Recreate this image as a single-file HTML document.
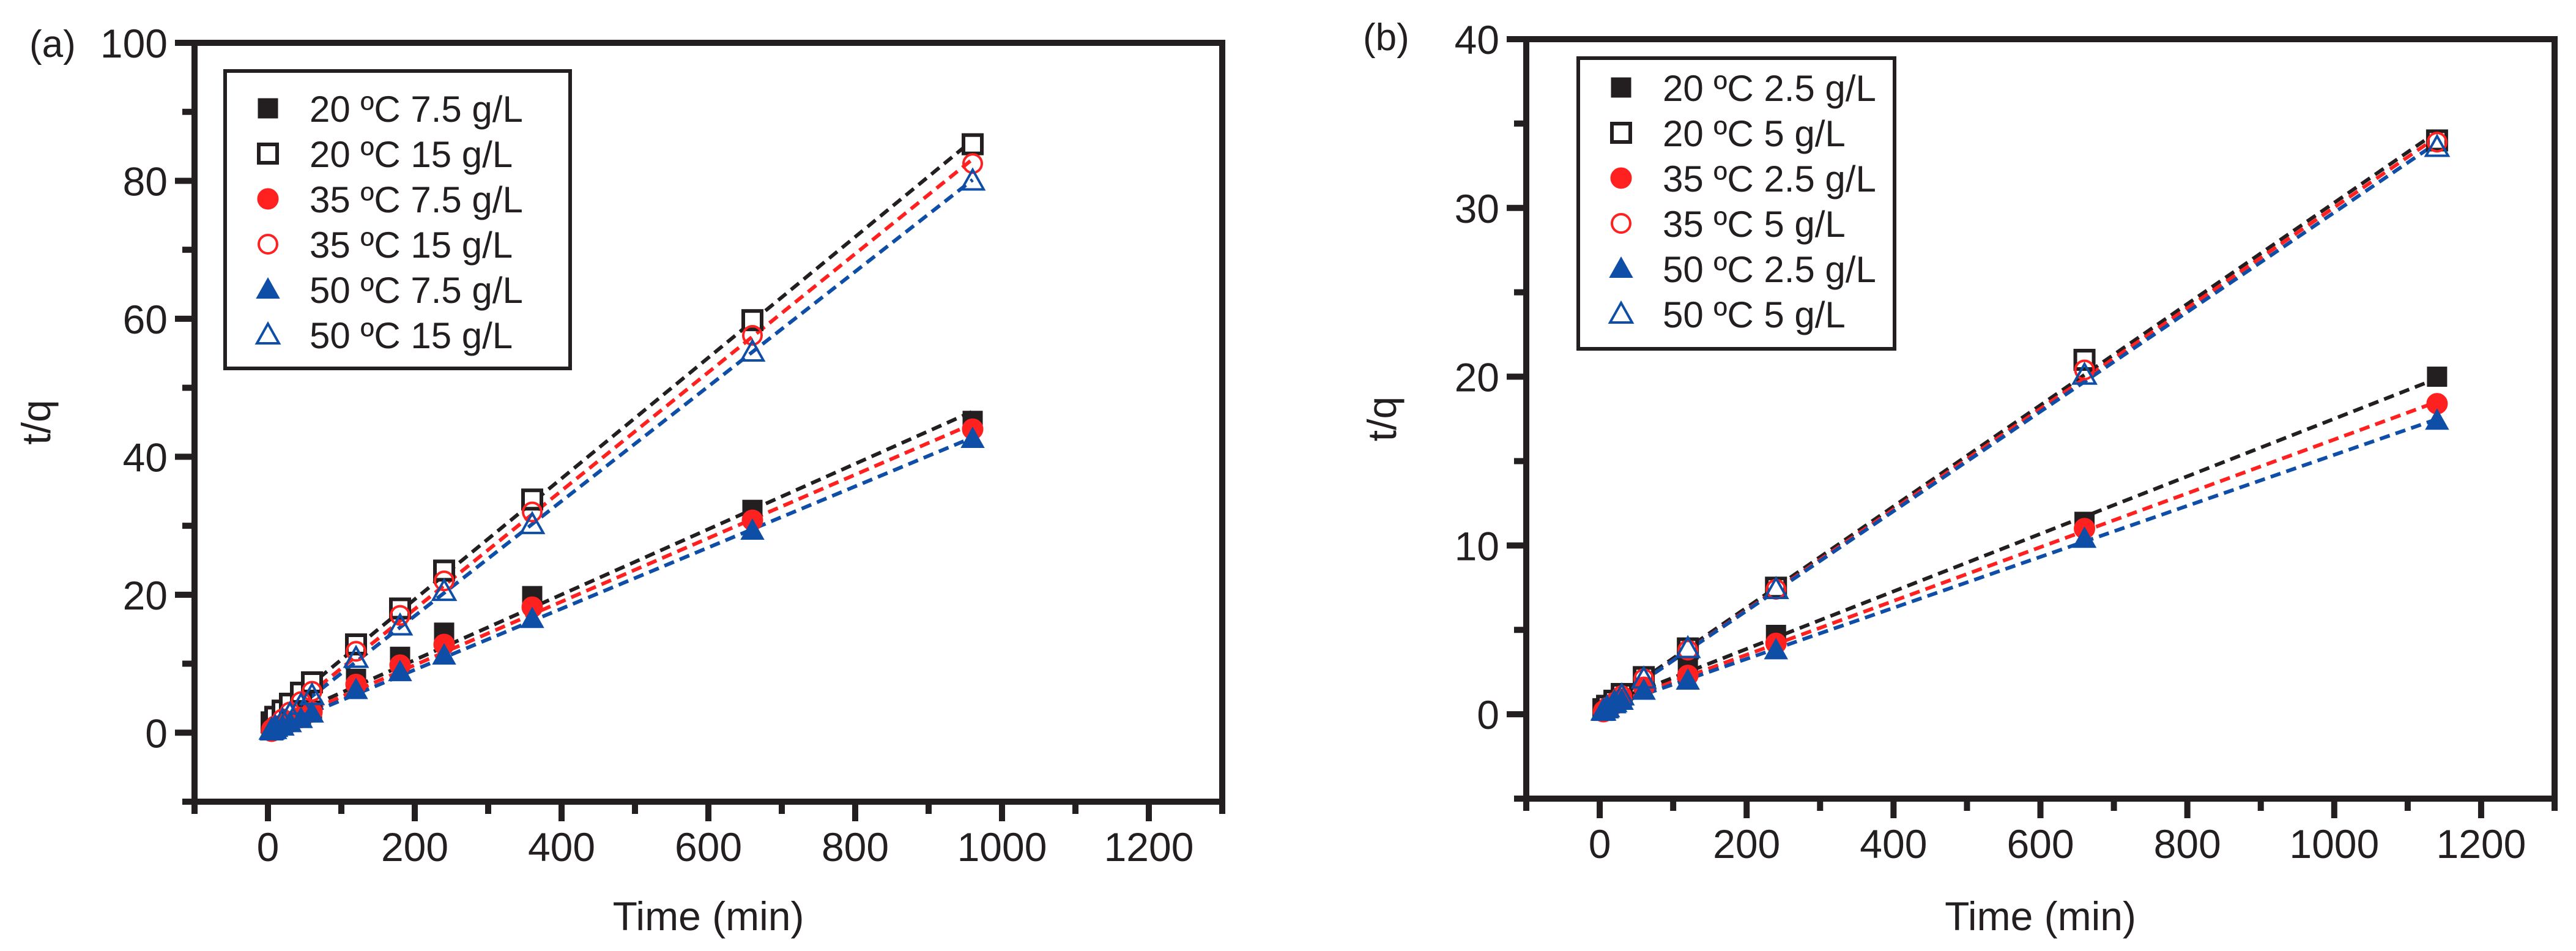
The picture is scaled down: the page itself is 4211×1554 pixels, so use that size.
<!DOCTYPE html>
<html><head><meta charset="utf-8"><style>
html,body{margin:0;padding:0;background:#fff;}
svg{display:block;font-family:"Liberation Sans",Arial,sans-serif;}
</style></head><body>
<svg id="fig" width="4211" height="1554" viewBox="0 0 4211 1554" xmlns="http://www.w3.org/2000/svg"></svg>
<script>
// ---------- Panel (a) data ----------
const timesA = [5,10,20,30,45,60,120,180,240,360,660,960];
const a_20_75 = [0.5,0.8,1.2,1.6,2.4,3.2,7.8,11,14.5,19.8,32.3,45.2];
const a_20_15 = [1.5,2.3,3.2,4.2,5.8,7.3,12.8,18,23.5,33.8,59.8,85.3];
const a_35_75 = [0.2,0.5,1.0,1.5,2.2,3.0,7.0,9.8,12.8,18.2,30.8,44.0];
const a_35_15 = [0.5,1.0,2.0,3.0,4.5,6.0,11.8,17,22,32,57.6,82.5];
const a_50_75 = [0.2,0.4,0.9,1.4,2.0,2.8,6.2,8.8,11.2,16.5,29.3,42.6];
const a_50_15 = [0.4,0.8,1.8,2.7,4.0,5.4,10.8,15.5,20.5,30.2,55.2,80.0];
const labelsA = ["20 \u00BAC 7.5 g/L","20 \u00BAC 15 g/L","35 \u00BAC 7.5 g/L","35 \u00BAC 15 g/L","50 \u00BAC 7.5 g/L","50 \u00BAC 15 g/L"];
const yTicksA = [0,20,40,60,80,100];
// ---------- Panel (b) data ----------
const timesB = [5,10,20,30,60,120,240,660,1140];
const b_20_25 = [0.2,0.4,0.7,1.0,2.0,2.7,4.7,11.4,20.0];
const b_20_5  = [0.3,0.5,0.8,1.2,2.2,3.9,7.5,21.0,34.0];
const b_35_25 = [0.15,0.3,0.6,0.9,1.6,2.3,4.2,11.0,18.4];
const b_35_5  = [0.2,0.4,0.7,1.1,2.1,3.8,7.4,20.4,33.9];
const b_50_25 = [0.15,0.3,0.6,0.8,1.4,2.0,3.8,10.4,17.4];
const b_50_5  = [0.2,0.4,0.7,1.1,2.1,3.9,7.4,20.1,33.6];
const labelsB = ["20 \u00BAC 2.5 g/L","20 \u00BAC 5 g/L","35 \u00BAC 2.5 g/L","35 \u00BAC 5 g/L","50 \u00BAC 2.5 g/L","50 \u00BAC 5 g/L"];
const yTicksB = [0,10,20,30,40];
const xTicks = [0,200,400,600,800,1000,1200];

const NS="http://www.w3.org/2000/svg";
const svg=document.getElementById('fig');
const BLACK="#231f20", RED="#ff2020", BLUE="#0e4ea6";
const styles=[
 {c:BLACK,shape:'sq',fill:true},{c:BLACK,shape:'sq',fill:false},
 {c:RED,shape:'ci',fill:true},{c:RED,shape:'ci',fill:false},
 {c:BLUE,shape:'tr',fill:true},{c:BLUE,shape:'tr',fill:false}];
function el(tag,attrs,parent){const e=document.createElementNS(NS,tag);for(const k in attrs)e.setAttribute(k,attrs[k]);(parent||svg).appendChild(e);return e;}
function marker(g,shape,cx,cy,c,fill){
  let m;
  if(shape==='sq'){m=el('rect',{x:cx-15,y:cy-15,width:30,height:30,fill:fill?c:'#fff',stroke:c,'stroke-width':fill?3:6},g);}
  else if(shape==='ci'){m=el('circle',{cx:cx,cy:cy,r:fill?17:15,fill:fill?c:'none',stroke:c,'stroke-width':fill?1:4},g);}
  else {m=el('polygon',{points:`${cx},${cy-18} ${cx+18},${cy+14} ${cx-18},${cy+14}`,fill:fill?c:'none',stroke:c,'stroke-width':fill?2:4,'stroke-linejoin':'miter'},g);}
  return m;
}
function fit(t,y){const n=t.length;let st=0,sy=0,stt=0,sty=0;for(let i=0;i<n;i++){st+=t[i];sy+=y[i];stt+=t[i]*t[i];sty+=t[i]*y[i];}
 const b=(n*sty-st*sy)/(n*stt-st*st);return {a:(sy-b*st)/n,b:b};}

function panel(P){
  const g=el('g',{});
  
  
  const X=v=>P.x0+(v-P.xmin)*(P.x1-P.x0)/(P.xmax-P.xmin);
  const Y=v=>P.y0-(v-P.ymin)*(P.y0-P.y1)/(P.ymax-P.ymin);
  // fit lines
  P.series.forEach((s,i)=>{
    const f=fit(P.times,s);const tEnd=P.times[P.times.length-1];
    const l=el('line',{x1:X(0),y1:Y(f.a),x2:X(tEnd),y2:Y(f.a+f.b*tEnd),stroke:styles[i].c,'stroke-width':6,'stroke-dasharray':'17 10'},g);
    
    
  });
  // points
  P.series.forEach((s,i)=>{
    const sg=el('g',{},g);
    
    
    s.forEach((v,j)=>{const m=marker(sg,styles[i].shape,X(P.times[j]),Y(v),styles[i].c,styles[i].fill);
      
      });
  });
  // frame
  const fr=el('rect',{x:P.x0,y:P.y1,width:P.x1-P.x0,height:P.y0-P.y1,fill:'none',stroke:BLACK,'stroke-width':10},g);
  
  
  // x ticks
  for(let v=P.xmin;v<=P.xmax;v+=100){
    const major=(v%200===0);const xx=X(v);
    el('line',{x1:xx,y1:P.y0,x2:xx,y2:P.y0+(major?32:20),stroke:BLACK,'stroke-width':10},g);
  }
  xTicks.forEach(v=>{const t=el('text',{x:X(v),y:P.y0+97,'font-size':66,'text-anchor':'middle',fill:BLACK},g);t.textContent=v;
    
    });
  // y ticks
  for(let v=P.ymin;v<=P.ymax;v+=P.ystep/2){
    const major=(Math.round(v/P.ystep)*P.ystep===v);const yy=Y(v);
    el('line',{x1:P.x0,y1:yy,x2:P.x0-(major?32:20),y2:yy,stroke:BLACK,'stroke-width':10},g);
  }
  P.yTicks.forEach(v=>{const t=el('text',{x:P.x0-44,y:Y(v)+24,'font-size':66,'text-anchor':'end',fill:BLACK},g);t.textContent=v;
    
    });
  // axis titles
  const xt=el('text',{x:(P.x0+P.x1)/2,y:1520,'font-size':66,'text-anchor':'middle',fill:BLACK},g);xt.textContent='Time (min)';
  
  
  const yt=el('text',{x:0,y:0,'font-size':66,'text-anchor':'middle',fill:BLACK,transform:`translate(${P.yTitleX},${(P.y0+P.y1)/2}) rotate(-90)`},g);yt.textContent='t/q';
  
  
  const pl=el('text',{x:P.lblX,y:P.lblY,'font-size':62,fill:BLACK},g);pl.textContent=P.lbl;
  
  
  // legend
  const lg=el('g',{},g);
  
  
  el('rect',{x:P.lx,y:P.ly,width:P.lw,height:P.lh,fill:'#fff',stroke:BLACK,'stroke-width':6},lg);
  P.labels.forEach((s,i)=>{
    const cy=P.ly+P.lrow0+i*74;
    const e=el('g',{},lg);
    
    
    marker(e,styles[i].shape,P.lx+70,cy,styles[i].c,styles[i].fill);
    const t=el('text',{x:P.lx+138,y:cy+22,'font-size':60,fill:BLACK},e);t.textContent=s;
  });
}
panel({name:'panel-a',x0:318,x1:1998,y0:1310,y1:70,xmin:-100,xmax:1300,ymin:-10,ymax:100,ystep:20,
  times:timesA,series:[a_20_75,a_20_15,a_35_75,a_35_15,a_50_75,a_50_15],labels:labelsA,yTicks:yTicksA,
  yTitleX:82,lbl:'(a)',lblX:48,lblY:93,lx:368,ly:116,lw:564,lh:486,lrow0:61});
panel({name:'panel-b',x0:2495,x1:4176,y0:1305,y1:64,xmin:-100,xmax:1300,ymin:-5,ymax:40,ystep:10,
  times:timesB,series:[b_20_25,b_20_5,b_35_25,b_35_5,b_50_25,b_50_5],labels:labelsB,yTicks:yTicksB,
  yTitleX:2282,lbl:'(b)',lblX:2228,lblY:82,lx:2580,ly:95,lw:517,lh:475,lrow0:48});
</script>
</body></html>
